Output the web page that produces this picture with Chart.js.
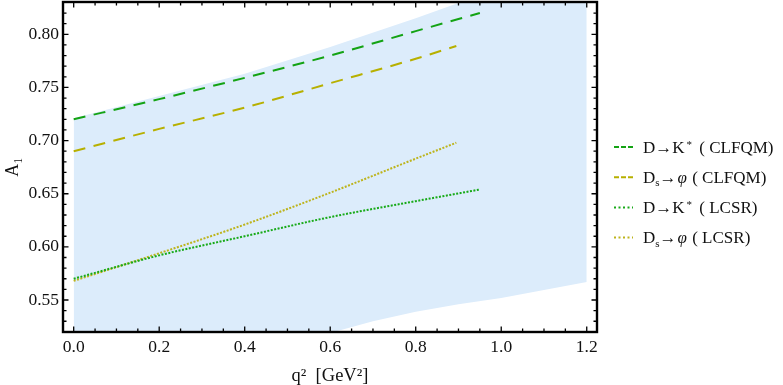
<!DOCTYPE html>
<html>
<head>
<meta charset="utf-8">
<style>
  html, body { margin: 0; padding: 0; background: #ffffff; }
  #wrap { width: 783px; height: 385px; }
</style>
<script src="https://cdn.jsdelivr.net/npm/chart.js@4.4.1/dist/chart.umd.min.js"></script>
</head>
<body>
<div id="wrap"><canvas id="c" width="783" height="385"></canvas></div>
<script>
// ---------- data ----------
const xTickValues = [0.0, 0.2, 0.4, 0.6, 0.8, 1.0, 1.2];
const yTickValues = [0.55, 0.60, 0.65, 0.70, 0.75, 0.80];

const xTitle = 'q²  [GeV²]';
const yTitle = 'A₁';

// series labels (markup: ^x superscript, _x subscript, φ italic)
const seriesLabels = ['D→K^* ( CLFQM)', 'D_s→φ ( CLFQM)', 'D→K^* ( LCSR)', 'D_s→φ ( LCSR)'];

// D→K* (CLFQM)
const dkClfqmQ2 = [0.0, 0.2, 0.4, 0.6, 0.8, 0.95];
const dkClfqmA1 = [0.720, 0.739, 0.759, 0.780, 0.803, 0.820];
// Ds→φ (CLFQM)
const dsClfqmQ2 = [0.0, 0.2, 0.4, 0.6, 0.8, 0.895];
const dsClfqmA1 = [0.690, 0.711, 0.731, 0.754, 0.777, 0.789];
// D→K* (LCSR)
const dkLcsrQ2 = [0.0, 0.2, 0.4, 0.6, 0.8, 0.95];
const dkLcsrA1 = [0.570, 0.592, 0.610, 0.628, 0.643, 0.654];
// Ds→φ (LCSR)
const dsLcsrQ2 = [0.0, 0.2, 0.4, 0.6, 0.8, 0.895];
const dsLcsrA1 = [0.568, 0.594, 0.621, 0.651, 0.683, 0.698];

// uncertainty band
const bandUpperQ2 = [0.0, 0.2, 0.4, 0.6, 0.8, 1.0, 1.2];
const bandUpper   = [0.721, 0.742, 0.763, 0.788, 0.815, 0.844, 0.876];
const bandLowerQ2 = [0.0, 0.2, 0.4, 0.6, 0.7, 0.8, 0.9, 1.0, 1.1, 1.2];
const bandLower   = [0.440, 0.466, 0.492, 0.519, 0.530, 0.539, 0.546, 0.552, 0.5595, 0.567];

// ---------- styling ----------
const GREEN = '#14a314';
const GOLD  = '#b7b000';
const GREEN_DOT = '#18aa18';
const GOLD_DOT  = '#bdb41c';
const BAND = 'rgb(220,236,251)';
const FONT = "'Liberation Serif', 'DejaVu Serif', serif";
const TEXT = '#111111';

function pts(xs, ys) { return xs.map((x, i) => ({ x: x, y: ys[i] })); }

const legendStyles = [
  { color: GREEN, dash: [5, 2] },
  { color: GOLD, dash: [5, 2] },
  { color: GREEN_DOT, dash: [2, 2.5] },
  { color: GOLD_DOT, dash: [2, 2.5] }
];

function parseRich(s) {
  const segs = [];
  let i = 0;
  while (i < s.length) {
    const ch = s[i];
    if (ch === '^' && i + 1 < s.length) { segs.push({ t: s[i + 1], mode: 'sup' }); i += 2; continue; }
    if (ch === '_' && i + 1 < s.length) { segs.push({ t: s[i + 1], mode: 'sub' }); i += 2; continue; }
    if (ch === 'φ') { segs.push({ t: ch, mode: 'it' }); i += 1; continue; }
    const last = segs[segs.length - 1];
    if (last && last.mode === 'n') last.t += ch; else segs.push({ t: ch, mode: 'n' });
    i += 1;
  }
  return segs;
}

const framePlugin = {
  id: 'frameTicks',
  afterDraw(chart) {
    const { ctx, chartArea: a, scales } = chart;
    const xs = scales.x, ys = scales.y;
    ctx.save();
    ctx.strokeStyle = '#000';
    ctx.lineWidth = 1.3;
    const maj = 5.5, mnr = 3.5;
    for (let k = 0; k <= 24; k++) {
      const v = k * 0.05;
      const px = xs.getPixelForValue(v);
      const L = (k % 4 === 0) ? maj : mnr;
      ctx.beginPath();
      ctx.moveTo(px, a.bottom); ctx.lineTo(px, a.bottom - L);
      ctx.moveTo(px, a.top); ctx.lineTo(px, a.top + L);
      ctx.stroke();
    }
    for (let k = 52; k <= 83; k++) {
      const v = k / 100;
      const py = ys.getPixelForValue(v);
      if (py < a.top - 0.5 || py > a.bottom + 0.5) continue;
      const L = (k % 5 === 0) ? maj : mnr;
      ctx.beginPath();
      ctx.moveTo(a.left, py); ctx.lineTo(a.left + L, py);
      ctx.moveTo(a.right, py); ctx.lineTo(a.right - L, py);
      ctx.stroke();
    }
    ctx.lineWidth = 2.4;
    ctx.strokeRect(a.left, a.top, a.right - a.left, a.bottom - a.top);

    // legend (rich text)
    const size = 17;
    const x0 = a.right + 17, x1 = a.right + 36, tx = a.right + 46;
    const y0 = 147, dy = 30.2;
    chart.data.datasets.slice(0, 4).forEach((ds, i) => {
      const st = legendStyles[i];
      const y = y0 + i * dy;
      ctx.setLineDash(st.dash);
      ctx.strokeStyle = st.color;
      ctx.lineWidth = 2;
      ctx.beginPath(); ctx.moveTo(x0, y); ctx.lineTo(x1, y); ctx.stroke();
      ctx.setLineDash([]);
      let x = tx;
      const base = y + 5.5;
      ctx.fillStyle = TEXT;
      ctx.textBaseline = 'alphabetic';
      ctx.textAlign = 'left';
      parseRich(seriesLabels[i]).forEach(seg => {
        let f = size, off = 0, style = '';
        if (seg.mode === 'sup') { f = 11; off = -5; x += 2; }
        if (seg.mode === 'sub') { f = 11; off = 3.5; }
        if (seg.mode === 'it') { style = 'italic '; x += 1; }
        ctx.font = style + f + 'px ' + FONT;
        ctx.fillText(seg.t, x, base + off);
        x += ctx.measureText(seg.t).width + (seg.mode === 'sup' ? 3 : 0) + (seg.mode === 'it' ? 1 : 0);
      });
    });
    ctx.restore();
  }
};

const lineDefaults = { fill: false, pointRadius: 0, borderWidth: 2, cubicInterpolationMode: 'monotone', backgroundColor: 'transparent' };

new Chart(document.getElementById('c'), {
  type: 'line',
  data: {
    datasets: [
      Object.assign({ label: 'D→K* (CLFQM)', data: pts(dkClfqmQ2, dkClfqmA1), borderColor: GREEN, borderDash: [12, 8.5] }, lineDefaults),
      Object.assign({ label: 'Ds→φ (CLFQM)', data: pts(dsClfqmQ2, dsClfqmA1), borderColor: GOLD, borderDash: [12, 8.5] }, lineDefaults),
      Object.assign({ label: 'D→K* (LCSR)', data: pts(dkLcsrQ2, dkLcsrA1), borderColor: GREEN_DOT, borderDash: [2, 1.5] }, lineDefaults),
      Object.assign({ label: 'Ds→φ (LCSR)', data: pts(dsLcsrQ2, dsLcsrA1), borderColor: GOLD_DOT, borderDash: [2, 1.5] }, lineDefaults),
      { label: 'band upper', data: pts(bandUpperQ2, bandUpper), borderWidth: 0, pointRadius: 0, borderColor: 'transparent', backgroundColor: BAND, fill: '+1', tension: 0 },
      { label: 'band lower', data: pts(bandLowerQ2, bandLower), borderWidth: 0, pointRadius: 0, borderColor: 'transparent', backgroundColor: BAND, fill: false, tension: 0 }
    ]
  },
  options: {
    responsive: false,
    animation: false,
    devicePixelRatio: 1,
    layout: { padding: { left: 0, right: 186, top: 2, bottom: 0 } },
    plugins: { legend: { display: false }, tooltip: { enabled: false } },
    scales: {
      x: {
        type: 'linear',
        min: -0.025, max: 1.224,
        grid: { display: false, drawTicks: false },
        border: { display: false },
        afterBuildTicks: s => { s.ticks = xTickValues.map(v => ({ value: v })); },
        afterFit: s => { s.height = 53; s.paddingLeft = 0; s.paddingRight = 0; },
        ticks: { padding: 5, color: TEXT, font: { family: FONT, size: 17.5 }, callback: v => Number(v).toFixed(1), maxRotation: 0, autoSkip: false },
        title: { display: true, text: xTitle, color: TEXT, font: { family: FONT, size: 18.5 }, padding: { top: 0, bottom: -2 } }
      },
      y: {
        type: 'linear',
        min: 0.5199, max: 0.8304,
        grid: { display: false, drawTicks: false },
        border: { display: false },
        afterBuildTicks: s => { s.ticks = yTickValues.map(v => ({ value: v })); },
        afterFit: s => { s.width = 63; s.paddingTop = 0; s.paddingBottom = 0; },
        ticks: { padding: 4, color: TEXT, font: { family: FONT, size: 17.5 }, callback: v => Number(v).toFixed(2), autoSkip: false },
        title: { display: true, text: yTitle, color: TEXT, font: { family: FONT, size: 18 }, padding: { top: 2, bottom: 0 } }
      }
    }
  },
  plugins: [framePlugin]
});
</script>
</body>
</html>
